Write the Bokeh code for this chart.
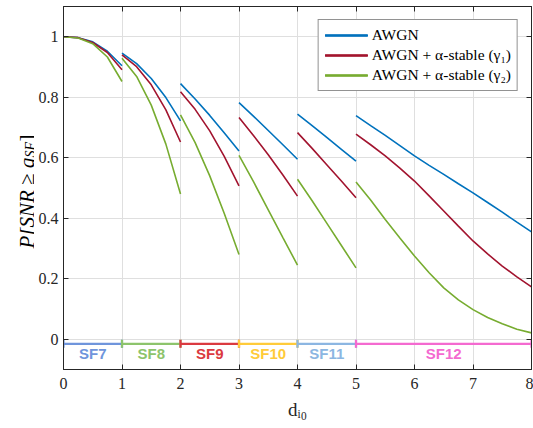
import numpy as np
from bokeh.plotting import figure
from bokeh.layouts import row, column
from bokeh.models import Range1d, FixedTicker, LinearAxis, Whisker, TeeHead, ColumnDataSource
from bokeh.embed import file_html
from bokeh.resources import INLINE
from bokeh.core.properties import value

# ---------------- data ----------------
seg_x = [
    [0, 0.25, 0.5, 0.75, 1],
    [1, 1.25, 1.5, 1.75, 2],
    [2, 2.25, 2.5, 2.75, 3],
    [3, 3.25, 3.5, 3.75, 4],
    [4, 4.25, 4.5, 4.75, 5],
    [5, 5.25, 5.5, 5.75, 6, 6.25, 6.5, 6.75, 7, 7.25, 7.5, 7.75, 8],
]
awgn = [
    [1.0, 0.997, 0.983, 0.952, 0.904],
    [0.946, 0.911, 0.862, 0.799, 0.722],
    [0.845, 0.794, 0.740, 0.682, 0.622],
    [0.782, 0.737, 0.690, 0.643, 0.595],
    [0.744, 0.706, 0.667, 0.628, 0.589],
    [0.739, 0.706, 0.674, 0.640, 0.606, 0.575, 0.545, 0.514, 0.484, 0.452, 0.420, 0.387, 0.355],
]
awgn_g1 = [
    [1.0, 0.997, 0.981, 0.948, 0.891],
    [0.940, 0.901, 0.841, 0.758, 0.652],
    [0.818, 0.760, 0.689, 0.604, 0.507],
    [0.733, 0.673, 0.610, 0.543, 0.473],
    [0.683, 0.631, 0.577, 0.523, 0.468],
    [0.678, 0.643, 0.606, 0.566, 0.523, 0.474, 0.424, 0.374, 0.325, 0.282, 0.242, 0.206, 0.173],
]
awgn_g2 = [
    [1.0, 0.996, 0.977, 0.933, 0.852],
    [0.929, 0.869, 0.774, 0.645, 0.480],
    [0.742, 0.650, 0.540, 0.415, 0.280],
    [0.608, 0.520, 0.428, 0.336, 0.245],
    [0.529, 0.458, 0.384, 0.310, 0.236],
    [0.520, 0.460, 0.396, 0.335, 0.275, 0.220, 0.170, 0.130, 0.098, 0.072, 0.051, 0.033, 0.021],
]
series_names = ["AWGN", "AWGN + α-stable (γ₁)", "AWGN + α-stable (γ₂)"]
series_colors = ["#0072BD", "#A2142F", "#77AC30"]

sf_names = ["SF7", "SF8", "SF9", "SF10", "SF11", "SF12"]
sf_start = [0, 1, 2, 3, 4, 5]
sf_end = [1, 2, 3, 4, 5, 8]
sf_colors = ["#6f95dc", "#8dc46c", "#db3a40", "#ffcb3a", "#8cb6e2", "#f46ad0"]
sf_bar_y = -0.015
sf_label_y = -0.047

x_ticks = [0, 1, 2, 3, 4, 5, 6, 7, 8]
y_ticks = [0, 0.2, 0.4, 0.6, 0.8, 1]
y_tick_labels = ["0", "0.2", "0.4", "0.6", "0.8", "1"]
x_label = "dᵢ₀"

AX = "#262626"
SERIF = "Liberation Serif"

# ---------------- main figure ----------------
p = figure(width=499, height=428, output_backend="svg", toolbar_location=None,
           x_range=Range1d(0, 8), y_range=Range1d(-0.1, 1.1),
           min_border_left=29, min_border_right=2, min_border_top=6, min_border_bottom=59)
p.outline_line_color = AX
p.outline_line_width = 1

bottom = p.below[0]
left = p.left[0]
bottom.ticker = FixedTicker(ticks=x_ticks)
left.ticker = FixedTicker(ticks=y_ticks)
left.major_label_overrides = {t: s for t, s in zip(y_ticks, y_tick_labels)}

top = LinearAxis(ticker=FixedTicker(ticks=x_ticks))
right = LinearAxis(ticker=FixedTicker(ticks=y_ticks))
p.add_layout(top, "above")
p.add_layout(right, "right")
top.major_label_overrides = {t: "" for t in x_ticks}
right.major_label_overrides = {t: "" for t in y_ticks}
for ax in [top, right]:
    ax.major_label_text_font_size = "1px"
    ax.major_label_standoff = 0

for ax in [bottom, left, top, right]:
    ax.axis_line_color = AX
    ax.major_tick_line_color = AX
    ax.major_tick_in = 5
    ax.major_tick_out = 0
    ax.minor_tick_line_color = None
    ax.major_label_text_font = SERIF
    ax.major_label_text_color = AX

for ax in [bottom, left]:
    ax.major_label_text_font_size = "16px"
bottom.major_label_standoff = 8
left.major_label_standoff = 5

bottom.axis_label = x_label
bottom.axis_label_text_font = SERIF
bottom.axis_label_text_font_style = "normal"
bottom.axis_label_text_font_size = "19px"
bottom.axis_label_text_color = AX
bottom.axis_label_standoff = 7

p.xgrid.ticker = FixedTicker(ticks=x_ticks)
p.ygrid.ticker = FixedTicker(ticks=y_ticks)
p.grid.grid_line_color = "#dfdfdf"
p.grid.grid_line_width = 1

# curves
for name, color, segs in zip(series_names, series_colors, [awgn, awgn_g1, awgn_g2]):
    for xs, ys in zip(seg_x, segs):
        p.line(xs, ys, line_color=color, line_width=1.6, legend_label=name)

# SF bars
for nm, s, e, c in zip(sf_names, sf_start, sf_end, sf_colors):
    src = ColumnDataSource(dict(base=[sf_bar_y], lower=[s], upper=[e]))
    w = Whisker(source=src, base="base", lower="lower", upper="upper", dimension="width",
                line_color=c, line_width=2.2,
                lower_head=TeeHead(size=8, line_color=c, line_width=2.2),
                upper_head=TeeHead(size=8, line_color=c, line_width=2.2))
    p.add_layout(w)

sf_src = ColumnDataSource(dict(
    x=[(s + e) / 2 for s, e in zip(sf_start, sf_end)],
    y=[sf_label_y] * len(sf_names),
    t=sf_names, c=sf_colors))
p.text(x="x", y="y", text="t", text_color="c", source=sf_src,
       text_font=value("Liberation Sans"), text_font_style="bold",
       text_font_size="15px", text_align="center", text_baseline="middle")

# legend
lg = p.legend[0]
lg.location = "top_right"
lg.margin = 13
lg.border_line_color = AX
lg.border_line_width = 1
lg.background_fill_color = "white"
lg.background_fill_alpha = 1
lg.label_text_font = SERIF
lg.label_text_font_size = "15.5px"
lg.label_text_color = "black"
lg.glyph_width = 43
lg.glyph_height = 18
lg.label_height = 18
lg.label_standoff = 4
lg.spacing = 2
lg.padding = 6

# ---------------- y-axis label strip (pixel coordinates) ----------------
yl = figure(width=34, height=428, output_backend="svg", toolbar_location=None,
            x_range=Range1d(0, 34), y_range=Range1d(0, 428),
            min_border=0, min_border_left=0, min_border_right=0,
            min_border_top=0, min_border_bottom=0)
yl.axis.visible = False
yl.grid.visible = False
yl.outline_line_color = None
yl.text(x=[26], y=[180], text=["P[SNR ≥ q"], angle=np.pi / 2,
        text_font=value(SERIF), text_font_style="italic", text_font_size="21px",
        text_align="left", text_baseline="alphabetic", text_color="black")
yl.text(x=[29.5], y=[271], text=["SF"], angle=np.pi / 2,
        text_font=value(SERIF), text_font_style="italic", text_font_size="14px",
        text_align="left", text_baseline="alphabetic", text_color="black")
yl.text(x=[26], y=[287], text=["]"], angle=np.pi / 2,
        text_font=value(SERIF), text_font_size="21px",
        text_align="left", text_baseline="alphabetic", text_color="black")

layout = row(yl, column(p, spacing=0), spacing=0)
open("out.html", "w").write(file_html(layout, INLINE))
